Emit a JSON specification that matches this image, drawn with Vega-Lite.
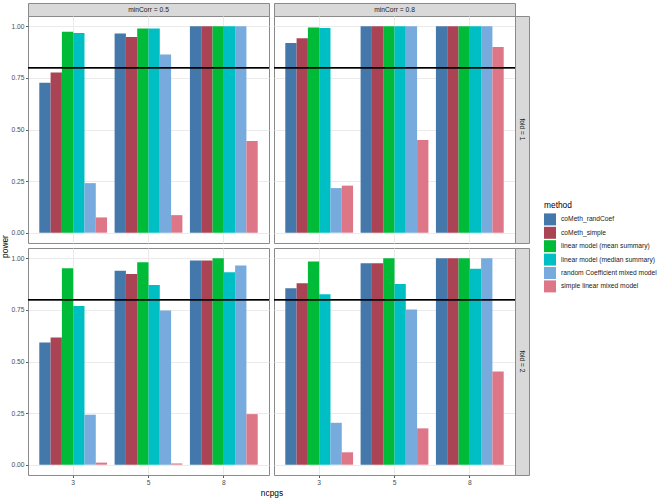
{
  "$schema": "https://vega.github.io/schema/vega-lite/v6.json",
  "padding": {"left": 0, "top": 2, "right": 0, "bottom": 0},
  "background": "white",
  "datasets": {
    "power": [
      {"minCorr": 0.5, "fold": 1, "ncpgs": 3, "method": "coMeth_randCoef", "power": 0.726},
      {"minCorr": 0.5, "fold": 1, "ncpgs": 3, "method": "coMeth_simple", "power": 0.776},
      {"minCorr": 0.5, "fold": 1, "ncpgs": 3, "method": "linear model (mean summary)", "power": 0.974},
      {"minCorr": 0.5, "fold": 1, "ncpgs": 3, "method": "linear model (median summary)", "power": 0.968},
      {"minCorr": 0.5, "fold": 1, "ncpgs": 3, "method": "random Coefficient mixed model", "power": 0.240},
      {"minCorr": 0.5, "fold": 1, "ncpgs": 3, "method": "simple linear mixed model", "power": 0.074},
      {"minCorr": 0.5, "fold": 1, "ncpgs": 5, "method": "coMeth_randCoef", "power": 0.965},
      {"minCorr": 0.5, "fold": 1, "ncpgs": 5, "method": "coMeth_simple", "power": 0.948},
      {"minCorr": 0.5, "fold": 1, "ncpgs": 5, "method": "linear model (mean summary)", "power": 0.990},
      {"minCorr": 0.5, "fold": 1, "ncpgs": 5, "method": "linear model (median summary)", "power": 0.990},
      {"minCorr": 0.5, "fold": 1, "ncpgs": 5, "method": "random Coefficient mixed model", "power": 0.863},
      {"minCorr": 0.5, "fold": 1, "ncpgs": 5, "method": "simple linear mixed model", "power": 0.085},
      {"minCorr": 0.5, "fold": 1, "ncpgs": 8, "method": "coMeth_randCoef", "power": 1.0},
      {"minCorr": 0.5, "fold": 1, "ncpgs": 8, "method": "coMeth_simple", "power": 1.0},
      {"minCorr": 0.5, "fold": 1, "ncpgs": 8, "method": "linear model (mean summary)", "power": 1.0},
      {"minCorr": 0.5, "fold": 1, "ncpgs": 8, "method": "linear model (median summary)", "power": 1.0},
      {"minCorr": 0.5, "fold": 1, "ncpgs": 8, "method": "random Coefficient mixed model", "power": 1.0},
      {"minCorr": 0.5, "fold": 1, "ncpgs": 8, "method": "simple linear mixed model", "power": 0.444},
      {"minCorr": 0.8, "fold": 1, "ncpgs": 3, "method": "coMeth_randCoef", "power": 0.919},
      {"minCorr": 0.8, "fold": 1, "ncpgs": 3, "method": "coMeth_simple", "power": 0.942},
      {"minCorr": 0.8, "fold": 1, "ncpgs": 3, "method": "linear model (mean summary)", "power": 0.994},
      {"minCorr": 0.8, "fold": 1, "ncpgs": 3, "method": "linear model (median summary)", "power": 0.992},
      {"minCorr": 0.8, "fold": 1, "ncpgs": 3, "method": "random Coefficient mixed model", "power": 0.216},
      {"minCorr": 0.8, "fold": 1, "ncpgs": 3, "method": "simple linear mixed model", "power": 0.228},
      {"minCorr": 0.8, "fold": 1, "ncpgs": 5, "method": "coMeth_randCoef", "power": 1.0},
      {"minCorr": 0.8, "fold": 1, "ncpgs": 5, "method": "coMeth_simple", "power": 1.0},
      {"minCorr": 0.8, "fold": 1, "ncpgs": 5, "method": "linear model (mean summary)", "power": 1.0},
      {"minCorr": 0.8, "fold": 1, "ncpgs": 5, "method": "linear model (median summary)", "power": 1.0},
      {"minCorr": 0.8, "fold": 1, "ncpgs": 5, "method": "random Coefficient mixed model", "power": 1.0},
      {"minCorr": 0.8, "fold": 1, "ncpgs": 5, "method": "simple linear mixed model", "power": 0.449},
      {"minCorr": 0.8, "fold": 1, "ncpgs": 8, "method": "coMeth_randCoef", "power": 1.0},
      {"minCorr": 0.8, "fold": 1, "ncpgs": 8, "method": "coMeth_simple", "power": 1.0},
      {"minCorr": 0.8, "fold": 1, "ncpgs": 8, "method": "linear model (mean summary)", "power": 1.0},
      {"minCorr": 0.8, "fold": 1, "ncpgs": 8, "method": "linear model (median summary)", "power": 1.0},
      {"minCorr": 0.8, "fold": 1, "ncpgs": 8, "method": "random Coefficient mixed model", "power": 1.0},
      {"minCorr": 0.8, "fold": 1, "ncpgs": 8, "method": "simple linear mixed model", "power": 0.900},
      {"minCorr": 0.5, "fold": 2, "ncpgs": 3, "method": "coMeth_randCoef", "power": 0.592},
      {"minCorr": 0.5, "fold": 2, "ncpgs": 3, "method": "coMeth_simple", "power": 0.616},
      {"minCorr": 0.5, "fold": 2, "ncpgs": 3, "method": "linear model (mean summary)", "power": 0.952},
      {"minCorr": 0.5, "fold": 2, "ncpgs": 3, "method": "linear model (median summary)", "power": 0.769},
      {"minCorr": 0.5, "fold": 2, "ncpgs": 3, "method": "random Coefficient mixed model", "power": 0.242},
      {"minCorr": 0.5, "fold": 2, "ncpgs": 3, "method": "simple linear mixed model", "power": 0.010},
      {"minCorr": 0.5, "fold": 2, "ncpgs": 5, "method": "coMeth_randCoef", "power": 0.940},
      {"minCorr": 0.5, "fold": 2, "ncpgs": 5, "method": "coMeth_simple", "power": 0.924},
      {"minCorr": 0.5, "fold": 2, "ncpgs": 5, "method": "linear model (mean summary)", "power": 0.981},
      {"minCorr": 0.5, "fold": 2, "ncpgs": 5, "method": "linear model (median summary)", "power": 0.871},
      {"minCorr": 0.5, "fold": 2, "ncpgs": 5, "method": "random Coefficient mixed model", "power": 0.747},
      {"minCorr": 0.5, "fold": 2, "ncpgs": 5, "method": "simple linear mixed model", "power": 0.006},
      {"minCorr": 0.5, "fold": 2, "ncpgs": 8, "method": "coMeth_randCoef", "power": 0.989},
      {"minCorr": 0.5, "fold": 2, "ncpgs": 8, "method": "coMeth_simple", "power": 0.989},
      {"minCorr": 0.5, "fold": 2, "ncpgs": 8, "method": "linear model (mean summary)", "power": 1.0},
      {"minCorr": 0.5, "fold": 2, "ncpgs": 8, "method": "linear model (median summary)", "power": 0.932},
      {"minCorr": 0.5, "fold": 2, "ncpgs": 8, "method": "random Coefficient mixed model", "power": 0.965},
      {"minCorr": 0.5, "fold": 2, "ncpgs": 8, "method": "simple linear mixed model", "power": 0.245},
      {"minCorr": 0.8, "fold": 2, "ncpgs": 3, "method": "coMeth_randCoef", "power": 0.855},
      {"minCorr": 0.8, "fold": 2, "ncpgs": 3, "method": "coMeth_simple", "power": 0.879},
      {"minCorr": 0.8, "fold": 2, "ncpgs": 3, "method": "linear model (mean summary)", "power": 0.984},
      {"minCorr": 0.8, "fold": 2, "ncpgs": 3, "method": "linear model (median summary)", "power": 0.826},
      {"minCorr": 0.8, "fold": 2, "ncpgs": 3, "method": "random Coefficient mixed model", "power": 0.203},
      {"minCorr": 0.8, "fold": 2, "ncpgs": 3, "method": "simple linear mixed model", "power": 0.060},
      {"minCorr": 0.8, "fold": 2, "ncpgs": 5, "method": "coMeth_randCoef", "power": 0.976},
      {"minCorr": 0.8, "fold": 2, "ncpgs": 5, "method": "coMeth_simple", "power": 0.976},
      {"minCorr": 0.8, "fold": 2, "ncpgs": 5, "method": "linear model (mean summary)", "power": 1.0},
      {"minCorr": 0.8, "fold": 2, "ncpgs": 5, "method": "linear model (median summary)", "power": 0.876},
      {"minCorr": 0.8, "fold": 2, "ncpgs": 5, "method": "random Coefficient mixed model", "power": 0.752},
      {"minCorr": 0.8, "fold": 2, "ncpgs": 5, "method": "simple linear mixed model", "power": 0.176},
      {"minCorr": 0.8, "fold": 2, "ncpgs": 8, "method": "coMeth_randCoef", "power": 1.0},
      {"minCorr": 0.8, "fold": 2, "ncpgs": 8, "method": "coMeth_simple", "power": 1.0},
      {"minCorr": 0.8, "fold": 2, "ncpgs": 8, "method": "linear model (mean summary)", "power": 1.0},
      {"minCorr": 0.8, "fold": 2, "ncpgs": 8, "method": "linear model (median summary)", "power": 0.950},
      {"minCorr": 0.8, "fold": 2, "ncpgs": 8, "method": "random Coefficient mixed model", "power": 1.0},
      {"minCorr": 0.8, "fold": 2, "ncpgs": 8, "method": "simple linear mixed model", "power": 0.452}
    ]
  },
  "columns": 4,
  "bounds": "flush",
  "spacing": 0,
  "concat": [
    {"width": 241, "height": 13, "view": {"fill": "#d9d9d9", "stroke": "#8a8a8a"},
     "data": {"values": [{"label": "minCorr = 0.5"}]},
     "mark": {"type": "text", "fontSize": 6.7, "color": "#1a1a1a"},
     "encoding": {"text": {"field": "label"}}},
    {"width": 5, "height": 13, "view": {"stroke": null}, "data": {"values": []}, "mark": "point"},
    {"width": 241, "height": 13, "view": {"fill": "#d9d9d9", "stroke": "#8a8a8a"},
     "data": {"values": [{"label": "minCorr = 0.8"}]},
     "mark": {"type": "text", "fontSize": 6.7, "color": "#1a1a1a"},
     "encoding": {"text": {"field": "label"}}},
    {"width": 14, "height": 13, "view": {"stroke": null}, "data": {"values": []}, "mark": "point"},

    {"width": 241, "height": 227, "view": {"stroke": "#8a8a8a"},
     "data": {"name": "power"},
     "transform": [{"filter": "datum.minCorr == 0.5 && datum.fold == 1"}],
     "layer": [
       {"mark": "bar",
        "encoding": {
          "x": {"field": "ncpgs", "type": "ordinal", "scale": {"paddingInner": 0.1, "paddingOuter": 0.15},
                "axis": {"bandPosition": 0.5, "grid": true, "labels": false, "ticks": false, "domain": false, "title": null}},
          "xOffset": {"field": "method", "type": "nominal", "sort": ["coMeth_randCoef", "coMeth_simple", "linear model (mean summary)", "linear model (median summary)", "random Coefficient mixed model", "simple linear mixed model"]},
          "y": {"field": "power", "type": "quantitative", "scale": {"domain": [-0.05, 1.05], "nice": false, "zero": false},
                "axis": {"values": [0, 0.125, 0.25, 0.375, 0.5, 0.625, 0.75, 0.875, 1],
                         "labelExpr": "datum.value % 0.25 === 0 ? format(datum.value, '.2f') : ''",
                         "gridWidth": {"condition": {"test": "datum.value % 0.25 === 0", "value": 1}, "value": 0.5},
                         "tickOpacity": {"condition": {"test": "datum.value % 0.25 === 0", "value": 1}, "value": 0},
                         "title": "power", "titleY": 230, "titlePadding": 1}},
          "color": {"field": "method", "type": "nominal",
                    "scale": {"domain": ["coMeth_randCoef", "coMeth_simple", "linear model (mean summary)", "linear model (median summary)", "random Coefficient mixed model", "simple linear mixed model"],
                              "range": ["#4477AA", "#AA4455", "#00BB38", "#00BFC4", "#77AADD", "#DD7788"]},
                    "legend": {"title": "method"}}
        }},
       {"mark": {"type": "rule", "color": "black", "strokeWidth": 0.8}, "encoding": {"y": {"datum": 0.8}}}
     ]},
    {"width": 5, "height": 227, "view": {"stroke": null}, "data": {"values": []}, "mark": "point"},
    {"width": 241, "height": 227, "view": {"stroke": "#8a8a8a"},
     "data": {"name": "power"},
     "transform": [{"filter": "datum.minCorr == 0.8 && datum.fold == 1"}],
     "layer": [
       {"mark": "bar",
        "encoding": {
          "x": {"field": "ncpgs", "type": "ordinal", "scale": {"paddingInner": 0.1, "paddingOuter": 0.15},
                "axis": {"bandPosition": 0.5, "grid": true, "labels": false, "ticks": false, "domain": false, "title": null}},
          "xOffset": {"field": "method", "type": "nominal", "sort": ["coMeth_randCoef", "coMeth_simple", "linear model (mean summary)", "linear model (median summary)", "random Coefficient mixed model", "simple linear mixed model"]},
          "y": {"field": "power", "type": "quantitative", "scale": {"domain": [-0.05, 1.05], "nice": false, "zero": false},
                "axis": {"values": [0, 0.125, 0.25, 0.375, 0.5, 0.625, 0.75, 0.875, 1],
                         "labels": false, "ticks": false, "title": null,
                         "gridWidth": {"condition": {"test": "datum.value % 0.25 === 0", "value": 1}, "value": 0.5}}},
          "color": {"field": "method", "type": "nominal",
                    "scale": {"domain": ["coMeth_randCoef", "coMeth_simple", "linear model (mean summary)", "linear model (median summary)", "random Coefficient mixed model", "simple linear mixed model"],
                              "range": ["#4477AA", "#AA4455", "#00BB38", "#00BFC4", "#77AADD", "#DD7788"]},
                    "legend": {"title": "method"}}
        }},
       {"mark": {"type": "rule", "color": "black", "strokeWidth": 0.8}, "encoding": {"y": {"datum": 0.8}}}
     ]},
    {"width": 14, "height": 227, "view": {"fill": "#d9d9d9", "stroke": "#8a8a8a"},
     "data": {"values": [{"label": "fold = 1"}]},
     "mark": {"type": "text", "fontSize": 6.7, "color": "#1a1a1a", "angle": 90},
     "encoding": {"text": {"field": "label"}}},

    {"width": 241, "height": 5, "view": {"stroke": null}, "data": {"values": []}, "mark": "point"},
    {"width": 5, "height": 5, "view": {"stroke": null}, "data": {"values": []}, "mark": "point"},
    {"width": 241, "height": 5, "view": {"stroke": null}, "data": {"values": []}, "mark": "point"},
    {"width": 14, "height": 5, "view": {"stroke": null}, "data": {"values": []}, "mark": "point"},

    {"width": 241, "height": 227, "view": {"stroke": "#8a8a8a"},
     "data": {"name": "power"},
     "transform": [{"filter": "datum.minCorr == 0.5 && datum.fold == 2"}],
     "layer": [
       {"mark": "bar",
        "encoding": {
          "x": {"field": "ncpgs", "type": "ordinal", "scale": {"paddingInner": 0.1, "paddingOuter": 0.15},
                "axis": {"bandPosition": 0.5, "grid": true, "domain": false, "title": "ncpgs", "titleX": 243.5}},
          "xOffset": {"field": "method", "type": "nominal", "sort": ["coMeth_randCoef", "coMeth_simple", "linear model (mean summary)", "linear model (median summary)", "random Coefficient mixed model", "simple linear mixed model"]},
          "y": {"field": "power", "type": "quantitative", "scale": {"domain": [-0.05, 1.05], "nice": false, "zero": false},
                "axis": {"values": [0, 0.125, 0.25, 0.375, 0.5, 0.625, 0.75, 0.875, 1],
                         "labelExpr": "datum.value % 0.25 === 0 ? format(datum.value, '.2f') : ''",
                         "gridWidth": {"condition": {"test": "datum.value % 0.25 === 0", "value": 1}, "value": 0.5},
                         "tickOpacity": {"condition": {"test": "datum.value % 0.25 === 0", "value": 1}, "value": 0},
                         "title": null}},
          "color": {"field": "method", "type": "nominal",
                    "scale": {"domain": ["coMeth_randCoef", "coMeth_simple", "linear model (mean summary)", "linear model (median summary)", "random Coefficient mixed model", "simple linear mixed model"],
                              "range": ["#4477AA", "#AA4455", "#00BB38", "#00BFC4", "#77AADD", "#DD7788"]},
                    "legend": {"title": "method"}}
        }},
       {"mark": {"type": "rule", "color": "black", "strokeWidth": 0.8}, "encoding": {"y": {"datum": 0.8}}}
     ]},
    {"width": 5, "height": 227, "view": {"stroke": null}, "data": {"values": []}, "mark": "point"},
    {"width": 241, "height": 227, "view": {"stroke": "#8a8a8a"},
     "data": {"name": "power"},
     "transform": [{"filter": "datum.minCorr == 0.8 && datum.fold == 2"}],
     "layer": [
       {"mark": "bar",
        "encoding": {
          "x": {"field": "ncpgs", "type": "ordinal", "scale": {"paddingInner": 0.1, "paddingOuter": 0.15},
                "axis": {"bandPosition": 0.5, "grid": true, "domain": false, "title": null}},
          "xOffset": {"field": "method", "type": "nominal", "sort": ["coMeth_randCoef", "coMeth_simple", "linear model (mean summary)", "linear model (median summary)", "random Coefficient mixed model", "simple linear mixed model"]},
          "y": {"field": "power", "type": "quantitative", "scale": {"domain": [-0.05, 1.05], "nice": false, "zero": false},
                "axis": {"values": [0, 0.125, 0.25, 0.375, 0.5, 0.625, 0.75, 0.875, 1],
                         "labels": false, "ticks": false, "title": null,
                         "gridWidth": {"condition": {"test": "datum.value % 0.25 === 0", "value": 1}, "value": 0.5}}},
          "color": {"field": "method", "type": "nominal",
                    "scale": {"domain": ["coMeth_randCoef", "coMeth_simple", "linear model (mean summary)", "linear model (median summary)", "random Coefficient mixed model", "simple linear mixed model"],
                              "range": ["#4477AA", "#AA4455", "#00BB38", "#00BFC4", "#77AADD", "#DD7788"]},
                    "legend": {"title": "method"}}
        }},
       {"mark": {"type": "rule", "color": "black", "strokeWidth": 0.8}, "encoding": {"y": {"datum": 0.8}}}
     ]},
    {"width": 14, "height": 227, "view": {"fill": "#d9d9d9", "stroke": "#8a8a8a"},
     "data": {"values": [{"label": "fold = 2"}]},
     "mark": {"type": "text", "fontSize": 6.7, "color": "#1a1a1a", "angle": 90},
     "encoding": {"text": {"field": "label"}}}
  ],
  "config": {
    "font": "Liberation Sans",
    "axis": {
      "gridColor": "#ebebeb", "domain": false, "labelAngle": 0,
      "labelFontSize": 6.7, "labelColor": "#4d4d4d", "labelPadding": 1.5,
      "tickColor": "#333333", "tickSize": 2.5, "tickWidth": 0.8,
      "titleFontSize": 8.4, "titleFontWeight": "normal", "titleColor": "black", "titlePadding": 3
    },
    "legend": {
      "orient": "none", "legendX": 516, "legendY": 198,
      "titleFontSize": 8.4, "titleFontWeight": "normal", "titleColor": "black", "titlePadding": 4,
      "labelFontSize": 6.7, "labelColor": "#1a1a1a", "labelOffset": 5,
      "symbolType": "square", "symbolSize": 144, "symbolStrokeWidth": 0, "symbolOpacity": 1, "rowPadding": 1.4
    }
  }
}
